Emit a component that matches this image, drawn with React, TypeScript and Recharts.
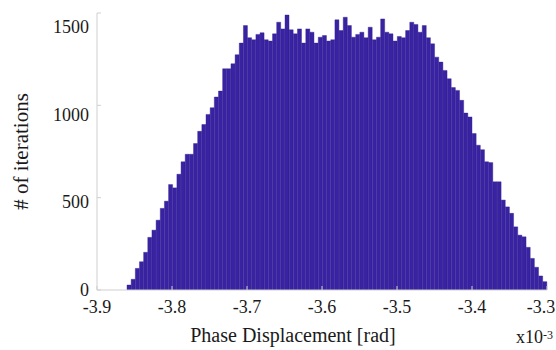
import React from 'react';
import { BarChart, Bar, XAxis, YAxis, Label } from 'recharts';

// Histogram bins (x10^-3 rad)
const binStart = -3.86;
const binEnd = -3.3;
const counts = [
  27, 58, 117, 153, 204, 285, 324, 378, 442, 481, 571, 553, 627, 694, 735, 735, 793, 859, 896, 951,
  987, 1045, 1077, 1198, 1198, 1225, 1274, 1337, 1432,
  1366, 1355, 1384, 1393, 1355, 1348, 1387, 1450, 1414, 1489, 1409, 1387, 1414, 1337, 1414, 1396,
  1337, 1369, 1378, 1348, 1355, 1463, 1405, 1477, 1432, 1369, 1384, 1396, 1366, 1423, 1355,
  1369, 1468, 1396, 1387, 1348, 1373, 1366, 1405, 1450, 1438, 1396, 1432, 1366, 1333, 1261, 1234,
  1189, 1144, 1096, 1081, 1027, 958, 937, 847, 784, 760, 694, 690, 586, 586, 487, 450, 415, 342,
  297, 288, 231, 171, 123, 76, 45,
];
const xTicks = [-3.9, -3.8, -3.7, -3.6, -3.5, -3.4, -3.3];
const yTicks = [0, 500, 1000, 1500];
const yMax = 1500;
const xLabel = 'Phase Displacement [rad]';
const yLabel = '# of iterations';
const xScaleBase = 'x10';
const xScaleExp = '-3';

const binWidth = (binEnd - binStart) / counts.length;
const data = counts.map((count, i) => ({
  bin: i,
  center: +(binStart + binWidth * (i + 0.5)).toFixed(6),
  count,
}));

const FONT = '"Liberation Serif", "Times New Roman", serif';
const AXIS = '#cfcfcf';
const TEXT = '#1a1a1a';
const CHART_W = 556;

const XTick = (props: any) => {
  const { x, y, payload } = props;
  const half = 14;
  const tx = Math.min(x, CHART_W - half - 1);
  return (
    <text x={tx} y={y} dy={13.5} textAnchor="middle" fontFamily={FONT} fontSize={18} fill={TEXT}>
      {String(payload.value)}
    </text>
  );
};

const YTick = (props: any) => {
  const { x, y, payload } = props;
  const shift = (payload.value / yMax) * 14;
  return (
    <text x={x} y={y + shift} dy={6} textAnchor="end" fontFamily={FONT} fontSize={18} fill={TEXT}>
      {String(payload.value)}
    </text>
  );
};

const renderXLabel = (props: any) => {
  const vb = props.viewBox || { x: 97, y: 290, width: 450, height: 60 };
  return (
    <g>
      <text x={vb.x + 196} y={vb.y + 52} textAnchor="middle" fontFamily={FONT} fontSize={20} fill={TEXT}>
        {xLabel}
      </text>
      <text x={vb.x + 419} y={vb.y + 53} textAnchor="start" fontFamily={FONT} fontSize={18} fill={TEXT}>
        {xScaleBase}
        <tspan dy={-4} fontSize={12}>{xScaleExp}</tspan>
      </text>
    </g>
  );
};

const renderYLabel = (props: any) => {
  const vb = props.viewBox || { x: 0, y: 13, width: 97, height: 277 };
  const cx = vb.x + 21;
  const cy = vb.y + vb.height / 2;
  return (
    <text
      x={cx}
      y={cy}
      transform={`rotate(-90, ${cx}, ${cy})`}
      textAnchor="middle"
      dominantBaseline="central"
      fontFamily={FONT}
      fontSize={21}
      fill={TEXT}
    >
      {yLabel}
    </text>
  );
};

export default function App() {
  return (
    <div style={{ width: 556, height: 350, background: '#fff' }}>
      <style>{`body{margin:0}`}</style>
      <BarChart
        width={556}
        height={350}
        data={data}
        margin={{ top: 13, right: 9, bottom: 0, left: 0 }}
        barCategoryGap={0}
        barGap={0}
      >
        <XAxis
          xAxisId="num"
          dataKey="center"
          type="number"
          domain={[-3.9, -3.3]}
          allowDataOverflow
          ticks={xTicks}
          interval={0}
          height={60}
          axisLine={{ stroke: AXIS }}
          tickLine={{ stroke: AXIS }}
          tickSize={-4}
          tickMargin={13}
          tick={<XTick />}
        >
          <Label content={renderXLabel} />
        </XAxis>
        <XAxis xAxisId="cat" dataKey="bin" type="category" hide height={0} padding={{ left: 30, right: 0 }} />
        <XAxis
          xAxisId="top"
          orientation="top"
          dataKey="center"
          type="number"
          domain={[-3.9, -3.3]}
          allowDataOverflow
          ticks={xTicks}
          interval={0}
          height={0}
          axisLine={{ stroke: AXIS }}
          tickLine={{ stroke: AXIS }}
          tickSize={-4}
          tick={false}
        />
        <YAxis
          yAxisId="left"
          dataKey="count"
          domain={[0, yMax]}
          allowDataOverflow
          ticks={yTicks}
          interval={0}
          width={97}
          axisLine={{ stroke: AXIS }}
          tickLine={{ stroke: AXIS }}
          tickSize={-4}
          tickMargin={12}
          tick={<YTick />}
        >
          <Label content={renderYLabel} />
        </YAxis>
        <YAxis
          yAxisId="right"
          orientation="right"
          dataKey="count"
          domain={[0, yMax]}
          allowDataOverflow
          ticks={yTicks}
          interval={0}
          width={0}
          axisLine={{ stroke: AXIS }}
          tickLine={{ stroke: AXIS }}
          tickSize={-4}
          tick={false}
        />
        <Bar
          dataKey="count"
          xAxisId="cat"
          yAxisId="left"
          fill="#3a23a2"
          stroke="#2e1b8a"
          strokeWidth={0.4}
          isAnimationActive={false}
        />
      </BarChart>
    </div>
  );
}
